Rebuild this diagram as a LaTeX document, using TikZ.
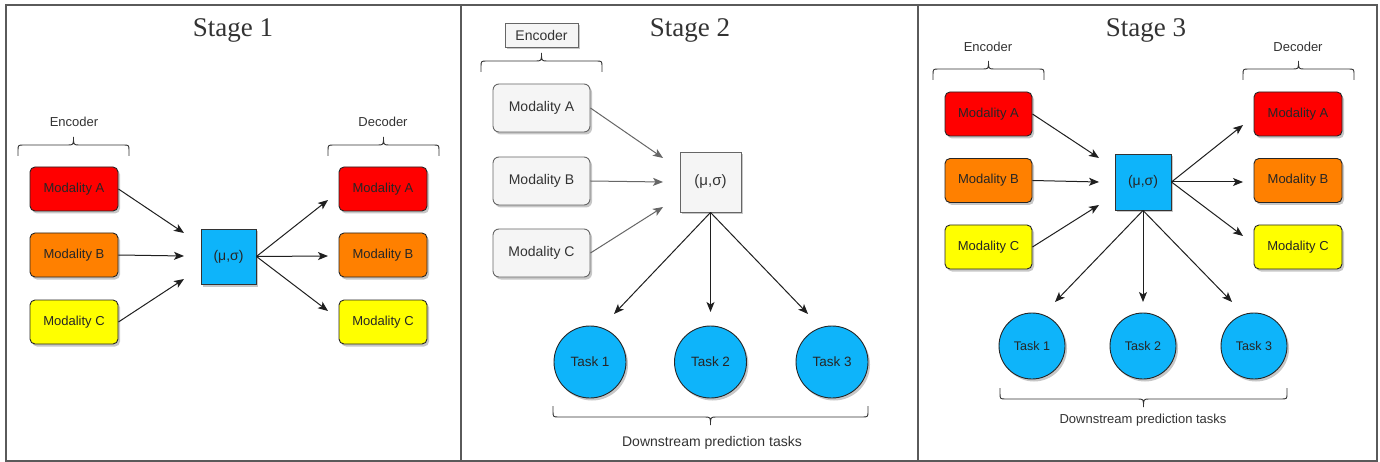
\documentclass[tikz,border=0pt]{standalone}
\usepackage{fontspec}
\setmainfont{Liberation Sans}
\newfontfamily\titlefont{Liberation Serif}
\usetikzlibrary{arrows.meta,shadows}
\definecolor{cred}{RGB}{255,0,0}
\definecolor{corange}{RGB}{255,128,0}
\definecolor{cyellow}{RGB}{255,255,0}
\definecolor{cblue}{RGB}{14,180,250}
\definecolor{gfill}{RGB}{245,245,245}
\definecolor{gline}{RGB}{102,102,102}
\definecolor{gtext}{RGB}{51,51,51}
\definecolor{frame}{RGB}{90,90,90}
% #1=x1 #2=x2 #3=end y #4=direction (-1 up, 1 down)
\newcommand\hbrc[4]{%
  \draw[brcl] (#1,#3) -- (#1,{#3+(#4)*5})
    .. controls (#1,{#3+(#4)*11}) .. ({#1+6},{#3+(#4)*11})
    -- ({(#1+#2)/2-6},{#3+(#4)*11})
    .. controls ({(#1+#2)/2},{#3+(#4)*11}) .. ({(#1+#2)/2},{#3+(#4)*19})
    .. controls ({(#1+#2)/2},{#3+(#4)*11}) .. ({(#1+#2)/2+6},{#3+(#4)*11})
    -- ({#2-6},{#3+(#4)*11})
    .. controls (#2,{#3+(#4)*11}) .. (#2,{#3+(#4)*5}) -- (#2,#3);}
\begin{document}
\begin{tikzpicture}[x=1pt,y=-1pt,
  shad/.style={drop shadow={shadow xshift=2pt,shadow yshift=-2.5pt,opacity=0.22,fill=black}},
  modbox/.style={shad,draw=black!85,line width=0.9pt,rounded corners=5pt,text=black!85,
    minimum width=88pt,minimum height=44pt,inner sep=0pt,font=\fontsize{13}{15}\selectfont},
  graybox/.style={shad,draw=gline,fill=gfill,line width=0.9pt,rounded corners=6pt,text=gtext,
    minimum width=97pt,minimum height=48pt,inner sep=0pt,font=\fontsize{14}{16}\selectfont},
  mubox/.style={shad,draw=black!80,fill=cblue,line width=0.9pt,inner sep=0pt,text=black!85,
    minimum width=55pt,minimum height=55pt,font=\fontsize{14}{16}\selectfont},
  task/.style={shad,circle,draw=black!85,fill=cblue,line width=0.9pt,inner sep=0pt,text=black!85,
    minimum size=66pt,font=\fontsize{12.5}{15}\selectfont},
  lbl/.style={text=gtext,inner sep=0pt,font=\fontsize{13}{15}\selectfont},
  ttl/.style={text=black!80,inner sep=0pt,font=\titlefont\fontsize{27}{30}\selectfont},
  arr/.style={-{Stealth[length=10pt,width=8pt,inset=2.5pt]},line width=1pt,black!88},
  garr/.style={-{Stealth[length=10pt,width=8pt,inset=2.5pt]},line width=1pt,gline},
  brcl/.style={line width=0.9pt,gtext},
]
\fill[white] (0,0) rectangle (1380,462);
\useasboundingbox (0,0) rectangle (1380,462);
% frame
\draw[frame,line width=1.4pt] (6,5) rectangle (1377,461);
\draw[frame,line width=1.4pt] (461,5) -- (461,461);
\draw[frame,line width=1.4pt] (918,5) -- (918,461);

% ================= Stage 1
\node[ttl] (t1) at (233,30) {Stage 1};
\node[lbl] (enc1) at (74,122) {Encoder};
\node[lbl] (dec1) at (383,122) {Decoder};
\hbrc{18}{129}{156}{-1}
\hbrc{328}{439}{156}{-1}
\node[modbox,fill=cred] (a1) at (74,189) {Modality A};
\node[modbox,fill=corange] (b1) at (74,255) {Modality B};
\node[modbox,fill=cyellow] (c1) at (74,322) {Modality C};
\node[mubox] (mu1) at (228.5,256.5) {(μ,σ)};
\node[modbox,fill=cred] (da1) at (383,189) {Modality A};
\node[modbox,fill=corange] (db1) at (383,255) {Modality B};
\node[modbox,fill=cyellow] (dc1) at (383,322) {Modality C};
\coordinate (ia1) at (184,233);
\coordinate (ib1) at (184,256);
\coordinate (ic1) at (184,279);
\coordinate (oa1) at (328,200);
\coordinate (ob1) at (328,256);
\coordinate (oc1) at (328,311);
\draw[arr] (a1.east) -- (ia1);
\draw[arr] (b1.east) -- (ib1);
\draw[arr] (c1.east) -- (ic1);
\draw[arr] (mu1.east) -- (oa1);
\draw[arr] (mu1.east) -- (ob1);
\draw[arr] (mu1.east) -- (oc1);

% ================= Stage 2
\node[ttl] (t2) at (690,30) {Stage 2};
\node[shad,draw=gline,fill=gfill,line width=0.9pt,text=gtext,minimum width=73pt,minimum height=24pt,
  inner sep=0pt,font=\fontsize{14}{16}\selectfont] (enc2) at (541.5,35) {Encoder};
\hbrc{481}{602}{72}{-1}
\node[graybox] (a2) at (541.5,108) {Modality A};
\node[graybox] (b2) at (541.5,181) {Modality B};
\node[graybox] (c2) at (541.5,253) {Modality C};
\node[mubox,draw=gline,fill=gfill,text=gtext,minimum width=61pt,minimum height=60pt,
  font=\fontsize{15}{17}\selectfont] (mu2) at (710.5,182) {(μ,σ)};
\coordinate (ia2) at (663,158);
\coordinate (ib2) at (663,182);
\coordinate (ic2) at (663,207);
\draw[garr] (a2.east) -- (ia2);
\draw[garr] (b2.east) -- (ib2);
\draw[garr] (c2.east) -- (ic2);
\node[task,minimum size=72pt,font=\fontsize{13.5}{16}\selectfont] (k21) at (590,362) {Task 1};
\node[task,minimum size=72pt,font=\fontsize{13.5}{16}\selectfont] (k22) at (710.5,362) {Task 2};
\node[task,minimum size=72pt,font=\fontsize{13.5}{16}\selectfont] (k23) at (832,362) {Task 3};
\coordinate (d21) at (614,314);
\coordinate (d22) at (710.5,312);
\coordinate (d23) at (808,314);
\draw[arr] (mu2.south) -- (d21);
\draw[arr] (mu2.south) -- (d22);
\draw[arr] (mu2.south) -- (d23);
\hbrc{553}{868}{406}{1}
\node[lbl,font=\fontsize{14}{16}\selectfont] (ds2) at (712,443) {Downstream prediction tasks};

% ================= Stage 3
\node[ttl] (t3) at (1146,30) {Stage 3};
\node[lbl] (enc3) at (988,47) {Encoder};
\node[lbl] (dec3) at (1298,47) {Decoder};
\hbrc{933}{1044}{80}{-1}
\hbrc{1243}{1354}{80}{-1}
\node[modbox,minimum width=87pt,fill=cred] (a3) at (988.5,114) {Modality A};
\node[modbox,minimum width=87pt,fill=corange] (b3) at (988.5,180.5) {Modality B};
\node[modbox,minimum width=87pt,fill=cyellow] (c3) at (988.5,247) {Modality C};
\node[mubox,minimum width=56pt,minimum height=56pt] (mu3) at (1143,182) {(μ,σ)};
\node[modbox,fill=cred] (da3) at (1298,114) {Modality A};
\node[modbox,fill=corange] (db3) at (1298,180.5) {Modality B};
\node[modbox,fill=cyellow] (dc3) at (1298,247) {Modality C};
\coordinate (ia3) at (1099,158);
\coordinate (ib3) at (1099,182);
\coordinate (ic3) at (1099,205);
\coordinate (oa3) at (1243,125);
\coordinate (ob3) at (1243,182);
\coordinate (oc3) at (1243,236);
\draw[arr] (a3.east) -- (ia3);
\draw[arr] (b3.east) -- (ib3);
\draw[arr] (c3.east) -- (ic3);
\draw[arr] (mu3.east) -- (oa3);
\draw[arr] (mu3.east) -- (ob3);
\draw[arr] (mu3.east) -- (oc3);
\node[task] (k31) at (1032,346) {Task 1};
\node[task] (k32) at (1143,346) {Task 2};
\node[task] (k33) at (1254,346) {Task 3};
\coordinate (d31) at (1055,302);
\coordinate (d32) at (1143,302);
\coordinate (d33) at (1232,302);
\draw[arr] (mu3.south) -- (d31);
\draw[arr] (mu3.south) -- (d32);
\draw[arr] (mu3.south) -- (d33);
\hbrc{1000}{1287}{388}{1}
\node[lbl] (ds3) at (1143,420) {Downstream prediction tasks};
\end{tikzpicture}
\end{document}
